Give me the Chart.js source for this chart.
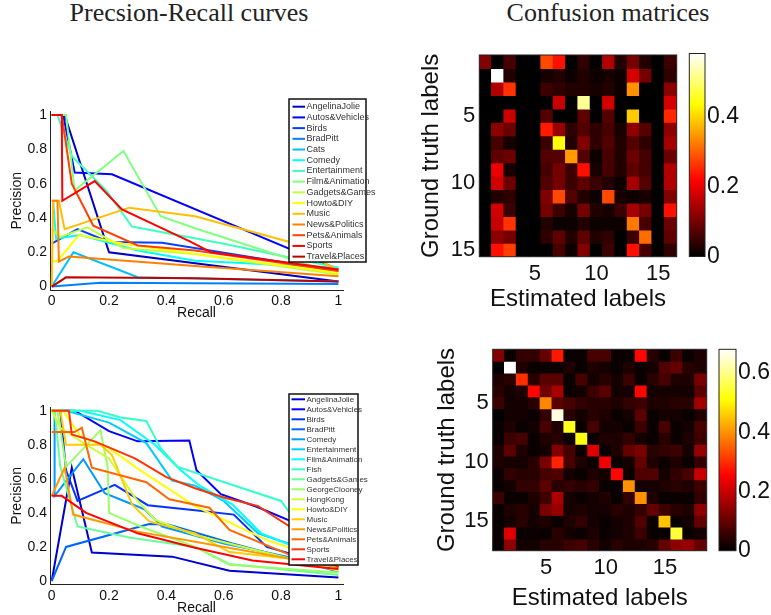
<!DOCTYPE html>
<html>
<head>
<meta charset="utf-8">
<script src="https://cdn.jsdelivr.net/npm/chart.js@4.4.1/dist/chart.umd.min.js"></script>
<style>
  body { margin: 0; width: 771px; height: 615px; background: #fff; position: relative; overflow: hidden; }
  canvas { position: absolute; }
  .title { position: absolute; font-family: "Liberation Serif", "Times New Roman", serif; font-size: 26px; color: #222; white-space: nowrap; transform: translateX(-50%); }
</style>
</head>
<body>
<div class="title" style="left:189px; top:-2px">Precsion-Recall curves</div>
<div class="title" style="left:608px; top:-2px">Confusion matrices</div>
<canvas id="prTop" style="left:0; top:90px" width="380" height="235"></canvas>
<canvas id="prBottom" style="left:0; top:390px" width="380" height="225"></canvas>
<canvas id="cmTop" style="left:410px; top:40px" width="300" height="275"></canvas>
<canvas id="cbTop" style="left:680px; top:40px" width="91" height="230"></canvas>
<canvas id="cmBottom" style="left:410px; top:330px" width="340" height="285"></canvas>
<canvas id="cbBottom" style="left:700px; top:330px" width="71" height="240"></canvas>
<script>
// ---- data ----
const prTicks = [0, 0.2, 0.4, 0.6, 0.8, 1];
const cmTicks = [5, 10, 15];
const cbTopTicks = [0, 0.2, 0.4];
const cbBottomTicks = [0, 0.2, 0.4, 0.6];

const topClasses = ['AngelinaJolie', 'Autos&Vehicles', 'Birds', 'BradPitt', 'Cats', 'Comedy', 'Entertainment',
  'Film&Animation', 'Gadgets&Games', 'Howto&DIY', 'Music', 'News&Politics', 'Pets&Animals', 'Sports', 'Travel&Places'];

// [recall, precision] per class
const topCurves = [
  [[0, 1], [0.045, 1], [0.2, 0.2], [1, 0.03]],
  [[0, 1], [0.04, 1], [0.08, 0.665], [0.21, 0.655], [1, 0.1]],
  [[0, 0.25], [0.09, 0.335], [0.2, 0.26], [0.385, 0.255], [1, 0.09]],
  [[0, 0], [0.17, 0.022], [1, 0.015]],
  [[0, 0], [0.076, 0.2], [0.3, 0.055], [1, 0.03]],
  [[0.005, 0.5], [0.015, 0.28], [0.1, 0.3], [0.3, 0.21], [0.5, 0.15], [1, 0.11]],
  [[0, 1], [0.02, 1], [0.07, 0.76], [0.19, 0.56], [0.28, 0.35], [0.6, 0.25], [1, 0.11]],
  [[0, 1], [0.05, 1], [0.08, 0.56], [0.25, 0.79], [0.38, 0.41], [0.5, 0.34], [1, 0.07]],
  [[0, 0.335], [0.03, 0.29], [0.125, 0.345], [0.25, 0.225], [0.5, 0.19], [1, 0.07]],
  [[0, 0.145], [0.02, 0.15], [0.095, 0.3], [0.25, 0.25], [0.5, 0.19], [1, 0.08]],
  [[0, 0], [0.005, 0.5], [0.025, 0.5], [0.045, 0.335], [0.27, 0.46], [0.5, 0.41], [0.83, 0.26], [1, 0.09]],
  [[0, 0.5], [0.02, 0.5], [0.025, 0.145], [0.06, 0.175], [0.5, 0.12], [1, 0.06]],
  [[0, 1], [0.035, 1], [0.07, 0.6], [0.145, 0.355], [0.3, 0.24], [0.5, 0.21], [1, 0.09]],
  [[0, 1], [0.035, 1], [0.037, 0.5], [0.15, 0.615], [0.245, 0.45], [0.48, 0.265], [0.555, 0.2], [1, 0.1]],
  [[0, 0], [0.05, 0.054], [0.5, 0.048], [1, 0.03]]
];

const bottomClasses = ['AngelinaJolie', 'Autos&Vehicles', 'Birds', 'BradPitt', 'Comedy', 'Entertainment',
  'Film&Animation', 'Fish', 'Gadgets&Games', 'GeorgeClooney', 'HongKong', 'Howto&DIY', 'Music',
  'News&Politics', 'Pets&Animals', 'Sports', 'Travel&Places'];

const bottomCurves = [
  [[0, 0], [0.07, 0.665], [0.14, 0.167], [0.42, 0.143], [0.62, 0.06], [1, 0.02]],
  [[0, 1], [0.08, 1], [0.2, 0.88], [0.3, 0.82], [0.48, 0.825], [0.505, 0.65], [0.59, 0.51], [0.715, 0.436], [0.83, 0.355], [1, 0.2]],
  [[0, 1], [0.03, 1], [0.05, 0.65], [0.09, 0.47], [0.22, 0.565], [0.335, 0.445], [0.5, 0.415], [0.635, 0.39], [0.75, 0.2], [1, 0.08]],
  [[0, 0], [0.05, 0.2], [0.34, 0.335], [0.41, 0.33], [0.63, 0.22], [1, 0.055]],
  [[0, 1], [0.01, 1], [0.01, 0.5], [0.11, 0.715], [0.185, 0.515], [0.325, 0.42], [0.385, 0.32], [0.6, 0.22], [1, 0.08]],
  [[0, 1], [0.05, 1], [0.2, 0.93], [0.33, 0.81], [0.42, 0.59], [0.5, 0.56], [0.6, 0.47], [0.72, 0.28], [1, 0.12]],
  [[0, 1], [0.1, 1], [0.24, 0.945], [0.36, 0.8], [0.45, 0.65], [0.52, 0.555], [0.63, 0.45], [0.73, 0.28], [1, 0.1]],
  [[0, 1], [0.16, 1], [0.24, 0.96], [0.33, 0.94], [0.38, 0.78], [0.44, 0.67], [0.8, 0.47], [0.86, 0.33], [1, 0.12]],
  [[0, 1], [0.01, 1], [0.03, 0.67], [0.09, 0.32], [0.27, 0.255], [0.5, 0.2], [0.62, 0.1], [1, 0.035]],
  [[0, 1], [0.02, 1], [0.05, 0.67], [0.17, 0.885], [0.195, 0.67], [0.2, 0.4], [0.31, 0.32], [0.5, 0.2], [0.62, 0.095], [1, 0.05]],
  [[0, 1], [0.03, 0.9], [0.12, 0.8], [0.2, 0.72], [0.29, 0.49], [0.36, 0.36], [0.5, 0.27], [1, 0.06]],
  [[0, 1], [0.04, 1], [0.1, 0.85], [0.2, 0.78], [0.3, 0.66], [0.5, 0.44], [0.75, 0.24], [1, 0.1]],
  [[0, 1], [0.03, 1], [0.05, 0.8], [0.17, 0.8], [0.21, 0.74], [0.28, 0.45], [0.34, 0.35], [0.5, 0.28], [0.62, 0.17], [1, 0.1]],
  [[0, 0.5], [0.045, 0.665], [0.075, 0.39], [0.3, 0.29], [0.5, 0.23], [1, 0.08]],
  [[0, 0.875], [0.08, 0.875], [0.105, 0.9], [0.14, 0.665], [0.33, 0.58], [0.41, 0.48], [0.55, 0.43], [0.62, 0.3], [0.85, 0.14], [1, 0.1]],
  [[0, 1], [0.06, 1], [0.07, 0.86], [0.15, 0.82], [0.29, 0.72], [0.4, 0.61], [0.5, 0.545], [0.6, 0.49], [0.72, 0.44], [0.83, 0.32], [1, 0.08]],
  [[0, 0.5], [0.035, 0.5], [0.12, 0.4], [0.3, 0.28], [0.5, 0.195], [0.7, 0.12], [1, 0.07]]
];

// rows = ground truth, cols = estimated
const topMatrix = [
  [0.11, 0, 0.06, 0, 0, 0.28, 0.23, 0, 0.04, 0, 0.15, 0.03, 0.1, 0.03, 0, 0.05],
  [0, 0.58, 0.03, 0, 0, 0.02, 0.03, 0.01, 0.03, 0.01, 0.02, 0.01, 0.18, 0.1, 0, 0.04],
  [0, 0.15, 0.26, 0, 0, 0.05, 0.04, 0.03, 0.03, 0.02, 0.03, 0.01, 0.34, 0, 0, 0.12],
  [0, 0, 0, 0, 0, 0, 0.17, 0, 0.52, 0, 0.18, 0, 0, 0, 0, 0.18],
  [0, 0, 0.17, 0, 0, 0.07, 0, 0, 0.08, 0, 0.07, 0, 0.39, 0, 0, 0.25],
  [0, 0.12, 0.09, 0, 0, 0.24, 0.13, 0.04, 0.07, 0.04, 0.06, 0.02, 0.12, 0.07, 0, 0.12],
  [0, 0.06, 0.02, 0, 0, 0.05, 0.44, 0.03, 0.11, 0.04, 0.07, 0.03, 0.07, 0.04, 0, 0.14],
  [0, 0.08, 0.09, 0, 0, 0.07, 0.07, 0.35, 0.07, 0.01, 0.06, 0.03, 0.09, 0.06, 0, 0.09],
  [0, 0.2, 0.02, 0, 0, 0.06, 0.1, 0.05, 0.23, 0.02, 0.06, 0.03, 0.08, 0.06, 0, 0.15],
  [0, 0.18, 0.09, 0, 0, 0.07, 0.1, 0.05, 0.08, 0.05, 0.03, 0.01, 0.14, 0.07, 0, 0.15],
  [0, 0.03, 0.04, 0, 0, 0.11, 0.28, 0.07, 0.03, 0.01, 0.28, 0.02, 0.01, 0.02, 0, 0.11],
  [0, 0.18, 0.05, 0, 0, 0.1, 0.05, 0.02, 0.1, 0.03, 0.02, 0.05, 0.14, 0.1, 0, 0.23],
  [0, 0.17, 0.26, 0, 0, 0.03, 0.01, 0.01, 0.03, 0.01, 0.01, 0.01, 0.32, 0.06, 0, 0.09],
  [0, 0.12, 0.1, 0, 0, 0.04, 0.08, 0.03, 0.08, 0.03, 0.04, 0, 0.05, 0.31, 0, 0.08],
  [0, 0.23, 0.27, 0, 0, 0, 0.06, 0.01, 0.11, 0, 0.05, 0, 0.23, 0.06, 0, 0.04]
];

const bottomMatrix = [
  [0.13, 0.01, 0.05, 0.05, 0.1, 0.28, 0.01, 0.01, 0.07, 0.07, 0.01, 0.01, 0.26, 0.04, 0.01, 0.06, 0.01, 0.03],
  [0, 0.68, 0.03, 0.01, 0.01, 0.01, 0.03, 0.01, 0.03, 0.02, 0.01, 0.03, 0.01, 0.02, 0.08, 0.1, 0.04, 0.03],
  [0.03, 0.04, 0.3, 0.04, 0.09, 0.09, 0.01, 0.07, 0.02, 0.04, 0.02, 0.06, 0.01, 0.04, 0.07, 0.03, 0.03, 0.12],
  [0.04, 0.02, 0.03, 0.26, 0.11, 0.17, 0.01, 0.02, 0.06, 0.09, 0.02, 0.02, 0.26, 0.02, 0.02, 0.02, 0.02, 0.09],
  [0.06, 0.02, 0.02, 0.04, 0.39, 0.09, 0.07, 0.05, 0.04, 0.04, 0.03, 0.05, 0.06, 0.03, 0.03, 0.04, 0.04, 0.16],
  [0, 0.02, 0.02, 0.01, 0.05, 0.66, 0.04, 0.02, 0.04, 0.03, 0.01, 0.02, 0.09, 0.01, 0.02, 0.02, 0.01, 0.03],
  [0.01, 0.03, 0.01, 0.02, 0.07, 0.03, 0.53, 0.01, 0.07, 0.02, 0.02, 0.01, 0.06, 0.01, 0.07, 0.01, 0.02, 0.07],
  [0.01, 0.06, 0.07, 0.01, 0.03, 0.04, 0.01, 0.52, 0.01, 0.03, 0.03, 0.05, 0.02, 0.01, 0.04, 0.01, 0.03, 0.06],
  [0.03, 0.09, 0.03, 0.01, 0.02, 0.13, 0.07, 0.01, 0.22, 0.01, 0.03, 0.1, 0.12, 0.04, 0.05, 0.06, 0.02, 0.15],
  [0.03, 0.02, 0.02, 0.04, 0.12, 0.29, 0.07, 0.03, 0.01, 0.24, 0.01, 0.02, 0.1, 0.03, 0.01, 0.03, 0.01, 0.05],
  [0.01, 0.05, 0.04, 0.04, 0.07, 0.08, 0.02, 0.01, 0.03, 0.02, 0.26, 0.01, 0.08, 0.08, 0.02, 0.05, 0.07, 0.2],
  [0.01, 0.02, 0.05, 0.05, 0.09, 0.04, 0.05, 0.04, 0.05, 0.01, 0.01, 0.4, 0.02, 0.02, 0.03, 0.04, 0.03, 0.06],
  [0.06, 0.01, 0.01, 0.03, 0.06, 0.17, 0.02, 0.01, 0.02, 0.03, 0.01, 0.05, 0.4, 0.03, 0.01, 0.01, 0.01, 0.05],
  [0.01, 0.03, 0.04, 0.02, 0.12, 0.15, 0.02, 0.03, 0.02, 0.02, 0.04, 0.03, 0.05, 0.1, 0.06, 0.04, 0.03, 0.14],
  [0.01, 0.02, 0.04, 0.02, 0.03, 0.01, 0.03, 0.05, 0.02, 0.01, 0.02, 0.03, 0.08, 0.01, 0.45, 0.01, 0.02, 0.1],
  [0.01, 0.22, 0.01, 0.01, 0.01, 0.04, 0.02, 0.01, 0.03, 0.01, 0.02, 0.03, 0.06, 0.01, 0.01, 0.55, 0.01, 0.02],
  [0.01, 0.14, 0.02, 0.02, 0.04, 0.04, 0.06, 0.07, 0.04, 0.02, 0.04, 0.03, 0.03, 0.04, 0.1, 0.14, 0.15, 0.1]
];

// ---- helpers ----
Chart.defaults.font.family = '"Liberation Sans", Arial, Helvetica, sans-serif';
Chart.defaults.color = '#111';

// matlab jet(m)
function jet(m) {
  const n = Math.ceil(m / 4);
  const u = [];
  for (let i = 1; i <= n; i++) u.push(i / n);
  for (let i = 1; i < n; i++) u.push(1);
  for (let i = n; i >= 1; i--) u.push(i / n);
  const g0 = Math.ceil(n / 2) - (m % 4 === 1 ? 1 : 0);
  const J = Array.from({ length: m }, () => [0, 0, 0]);
  u.forEach((val, k) => {
    const g = g0 + k + 1, r = g + n, b = g - n;
    if (r >= 1 && r <= m) J[r - 1][0] = val;
    if (g >= 1 && g <= m) J[g - 1][1] = val;
    if (b >= 1 && b <= m) J[b - 1][2] = val;
  });
  return J.map(c => `rgb(${c.map(v => Math.round(v * 255)).join(',')})`);
}

// matlab hot
function hot(t) {
  const cl = v => Math.max(0, Math.min(1, v));
  const r = cl(t / 0.375), g = cl((t - 0.375) / 0.375), b = cl((t - 0.75) / 0.25);
  return `rgb(${Math.round(r * 255)},${Math.round(g * 255)},${Math.round(b * 255)})`;
}

function fixedTicks(list) {
  return scale => { scale.ticks = list.map(v => ({ value: v })); };
}

function boxLegend(cfg) {
  return {
    id: 'boxLegend',
    afterDatasetsDraw(chart) {
      const ctx = chart.ctx;
      ctx.save();
      ctx.fillStyle = '#fff';
      ctx.fillRect(cfg.x, cfg.y, cfg.w, cfg.h);
      ctx.strokeStyle = '#111';
      ctx.lineWidth = 1.5;
      ctx.strokeRect(cfg.x, cfg.y, cfg.w, cfg.h);
      ctx.font = cfg.font;
      ctx.textBaseline = 'middle';
      chart.data.datasets.forEach((ds, i) => {
        const y = cfg.y0 + i * cfg.step;
        ctx.strokeStyle = ds.borderColor;
        ctx.lineWidth = 2;
        ctx.beginPath();
        ctx.moveTo(cfg.lx0, y);
        ctx.lineTo(cfg.lx1, y);
        ctx.stroke();
        ctx.fillStyle = '#333';
        ctx.fillText(ds.label, cfg.tx, y);
      });
      ctx.restore();
    }
  };
}

const frame = {
  id: 'frame',
  afterDraw(chart) {
    const a = chart.chartArea, ctx = chart.ctx;
    ctx.save();
    ctx.strokeStyle = '#222';
    ctx.lineWidth = 1;
    ctx.strokeRect(a.left, a.top, a.right - a.left, a.bottom - a.top);
    ctx.restore();
  }
};

function prChart(id, classes, curves, box) {
  const colors = jet(classes.length);
  new Chart(document.getElementById(id), {
    type: 'line',
    data: {
      datasets: classes.map((name, i) => ({
        label: name,
        data: curves[i].map(p => ({ x: p[0], y: p[1] })),
        borderColor: colors[i],
        borderWidth: 2,
        pointRadius: 0,
        fill: false,
        tension: 0,
        order: -i
      }))
    },
    options: {
      responsive: false,
      animation: false,
      events: [],
      layout: { padding: { left: 0, top: box.top, right: box.right, bottom: 0 } },
      plugins: { legend: { display: false }, tooltip: { enabled: false } },
      scales: {
        x: {
          type: 'linear', min: -0.006, max: 1.016,
          grid: { display: false, drawTicks: false },
          border: { display: true, color: '#222', width: 1 },
          ticks: { font: { size: 14 }, padding: 3, maxRotation: 0, callback: v => String(v) },
          title: { display: true, text: 'Recall', font: { size: 14 }, padding: { top: 0, bottom: box.titleBottom } },
          afterBuildTicks: fixedTicks(prTicks),
          afterFit: s => { s.height = box.xh; }
        },
        y: {
          type: 'linear', min: -0.02, max: 1.02,
          grid: { display: false, drawTicks: false },
          border: { display: true, color: '#222', width: 1 },
          ticks: { font: { size: 14 }, padding: 3, callback: v => String(v) },
          title: { display: true, text: 'Precision', font: { size: 14 }, padding: { top: 9, bottom: 0 } },
          afterBuildTicks: fixedTicks(prTicks),
          afterFit: s => { s.width = 50; }
        }
      }
    },
    plugins: [boxLegend(box.legend)]
  });
}

function cmChart(id, matrix, box) {
  const cmax = Math.max(...matrix.flat());
  const cols = matrix[0].map((_, j) => String(j + 1));
  new Chart(document.getElementById(id), {
    type: 'bar',
    data: {
      labels: cols,
      datasets: matrix.map((row, r) => ({
        data: row.map(() => [r + 0.5, r + 1.5]),
        backgroundColor: row.map(v => hot(v / cmax)),
        borderWidth: 0,
        inflateAmount: 0.6,
        barPercentage: 1,
        categoryPercentage: 1,
        grouped: false
      }))
    },
    options: {
      responsive: false,
      animation: false,
      events: [],
      layout: { padding: { left: 0, top: box.top, right: box.right, bottom: 0 } },
      plugins: { legend: { display: false }, tooltip: { enabled: false } },
      scales: {
        x: {
          grid: { display: false, drawTicks: false },
          border: { display: false },
          ticks: {
            font: { size: 22 }, padding: box.xTickPad, autoSkip: false, maxRotation: 0,
            callback: (v, i) => cmTicks.includes(i + 1) ? String(i + 1) : ''
          },
          title: { display: true, text: 'Estimated labels', font: { size: 24 }, padding: { top: 0, bottom: box.xTitleBottom } },
          afterFit: s => { s.height = box.xh; }
        },
        y: {
          type: 'linear', reverse: true, min: 0.5, max: matrix.length + 0.5,
          grid: { display: false, drawTicks: false },
          border: { display: false },
          ticks: { font: { size: 22, lineHeight: 1 }, padding: 4 },
          title: { display: true, text: 'Ground truth labels', font: { size: 24 }, padding: { top: box.yTitleTop, bottom: 0 } },
          afterBuildTicks: fixedTicks(cmTicks),
          afterFit: s => { s.width = box.yw; }
        }
      }
    },
    plugins: [frame]
  });
  return cmax;
}

function colorbar(id, cmax, ticks, box) {
  new Chart(document.getElementById(id), {
    type: 'bar',
    data: {
      labels: [''],
      datasets: [{
        data: [[0, cmax]],
        borderWidth: 0,
        barPercentage: 1,
        categoryPercentage: 1,
        backgroundColor: c => {
          const a = c.chart.chartArea;
          if (!a) return '#000';
          const g = c.chart.ctx.createLinearGradient(0, a.bottom, 0, a.top);
          g.addColorStop(0, hot(0));
          g.addColorStop(0.375, hot(0.375));
          g.addColorStop(0.75, hot(0.75));
          g.addColorStop(1, hot(1));
          return g;
        }
      }]
    },
    options: {
      responsive: false,
      animation: false,
      events: [],
      layout: { padding: { left: box.left, top: box.top, right: 0, bottom: box.bottom } },
      plugins: { legend: { display: false }, tooltip: { enabled: false } },
      scales: {
        x: { display: false },
        y: {
          position: 'right', min: 0, max: cmax,
          grid: { display: false, drawTicks: false },
          border: { display: false },
          ticks: { font: { size: 23, lineHeight: 1 }, padding: 2, callback: v => String(v) },
          afterBuildTicks: fixedTicks(ticks),
          afterFit: s => { s.width = box.yw; }
        }
      }
    },
    plugins: [frame]
  });
}

// ---- charts ----
prChart('prTop', topClasses, topCurves, {
  top: 21.6, right: 37, xh: 35, titleBottom: 3,
  legend: { x: 289, y: 9, w: 77, h: 163, y0: 16.7, step: 10.71, lx0: 292.5, lx1: 305, tx: 306.5, font: '9px "Liberation Sans", Arial, sans-serif' }
});

prChart('prBottom', bottomClasses, bottomCurves, {
  top: 17.3, right: 37, xh: 30.6, titleBottom: -1.4,
  legend: { x: 289, y: 4, w: 69, h: 171, y0: 9.3, step: 10.0, lx0: 291.5, lx1: 305, tx: 306.5, font: '8px "Liberation Sans", Arial, sans-serif' }
});

const topMax = cmChart('cmTop', topMatrix, {
  top: 11.7, right: 33.3, xh: 58.3, yw: 69.3, xTickPad: 4, xTitleBottom: 1.6, yTitleTop: 7.3
});
colorbar('cbTop', topMax, cbTopTicks, { left: 9.3, top: 12.3, bottom: 13.3, yw: 66 });

const bottomMax = cmChart('cmBottom', bottomMatrix, {
  top: 19.3, right: 43.3, xh: 64.3, yw: 82.7, xTickPad: 4, xTitleBottom: 2.6, yTitleTop: 22.9
});
colorbar('cbBottom', bottomMax, cbBottomTicks, { left: 19, top: 19.3, bottom: 19.3, yw: 35 });
</script>
</body>
</html>
